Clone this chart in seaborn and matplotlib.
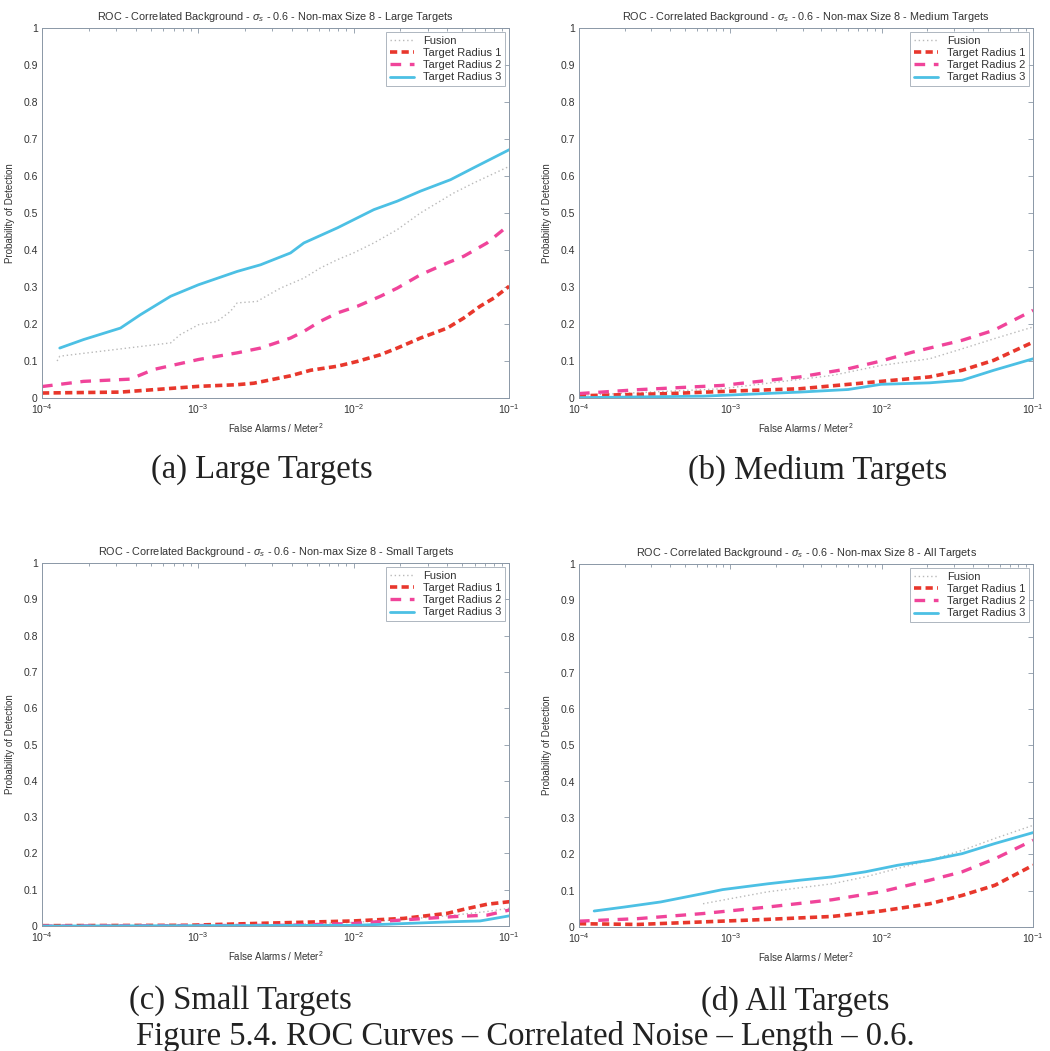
import numpy as np
import pandas as pd
import matplotlib
matplotlib.use("Agg")
import matplotlib.pyplot as plt
from matplotlib.ticker import LogLocator, FixedLocator, NullFormatter
import seaborn as sns

# ---------------- data: false alarm rate (per m^2) and probability of detection ----------------
# (a) Large targets
large_fusion_fa = [1.25e-4, 1.30e-4, 6.7e-4, 7.7e-4, 1.01e-3, 1.33e-3, 1.62e-3, 1.79e-3, 2.4e-3, 3.4e-3,
                   4.8e-3, 6.1e-3, 7.9e-3, 1.0e-2, 1.35e-2, 1.91e-2, 2.69e-2, 4.4e-2, 5.9e-2, 1.0e-1]
large_fusion_pd = [0.100, 0.113, 0.149, 0.171, 0.198, 0.207, 0.234, 0.257, 0.261, 0.297,
                   0.324, 0.351, 0.374, 0.392, 0.419, 0.455, 0.500, 0.554, 0.581, 0.626]
large_r1_fa = [1.0e-4, 3.19e-4, 5.2e-4, 1.01e-3, 1.79e-3, 2.29e-3, 3.94e-3, 5.3e-3, 7.9e-3, 1.06e-2,
               1.49e-2, 1.91e-2, 2.69e-2, 4.0e-2, 5.1e-2, 6.5e-2, 7.96e-2, 1.0e-1]
large_r1_pd = [0.0135, 0.016, 0.0225, 0.0315, 0.036, 0.040, 0.060, 0.075, 0.086, 0.099,
               0.117, 0.135, 0.162, 0.189, 0.216, 0.248, 0.270, 0.302]
large_r2_fa = [1.0e-4, 1.85e-4, 3.69e-4, 5.2e-4, 1.01e-3, 1.79e-3, 2.53e-3, 3.94e-3, 4.8e-3, 6.1e-3,
               7.9e-3, 1.06e-2, 1.49e-2, 1.91e-2, 2.69e-2, 4.0e-2, 5.1e-2, 7.2e-2, 1.0e-1]
large_r2_pd = [0.031, 0.045, 0.051, 0.077, 0.104, 0.122, 0.135, 0.162, 0.180, 0.207,
               0.230, 0.248, 0.275, 0.297, 0.333, 0.365, 0.383, 0.419, 0.468]
large_r3_fa = [1.30e-4, 1.85e-4, 3.19e-4, 4.28e-4, 6.7e-4, 1.01e-3, 1.79e-3, 2.53e-3, 3.94e-3, 4.8e-3,
               7.9e-3, 1.35e-2, 1.91e-2, 2.69e-2, 4.2e-2, 5.9e-2, 1.0e-1]
large_r3_pd = [0.135, 0.158, 0.189, 0.225, 0.275, 0.306, 0.342, 0.360, 0.392, 0.419,
               0.460, 0.509, 0.532, 0.559, 0.590, 0.622, 0.671]

# (b) Medium targets
medium_fusion_fa = [1.0e-4, 8.8e-4, 4.7e-3, 9.9e-3, 2.07e-2, 3.4e-2, 5.5e-2, 1.0e-1]
medium_fusion_pd = [0.007, 0.025, 0.061, 0.088, 0.106, 0.133, 0.160, 0.192]
medium_r1_fa = [1.0e-4, 4.0e-4, 1.07e-3, 2.88e-3, 9.9e-3, 2.07e-2, 3.4e-2, 5.5e-2, 1.0e-1]
medium_r1_pd = [0.006, 0.012, 0.019, 0.025, 0.045, 0.057, 0.075, 0.102, 0.151]
medium_r2_fa = [1.0e-4, 2.45e-4, 8.8e-4, 2.88e-3, 6.0e-3, 9.9e-3, 1.6e-2, 3.4e-2, 5.5e-2, 1.0e-1]
medium_r2_pd = [0.012, 0.0225, 0.034, 0.057, 0.079, 0.100, 0.124, 0.156, 0.183, 0.237]
medium_r3_fa = [1.0e-4, 6.6e-4, 2.88e-3, 6.0e-3, 9.9e-3, 2.07e-2, 3.4e-2, 5.5e-2, 1.0e-1]
medium_r3_pd = [0.001, 0.005, 0.016, 0.023, 0.037, 0.041, 0.048, 0.075, 0.106]

# (c) Small targets
small_fusion_fa = [1.0e-4, 8.5e-4, 3.75e-3, 1.0e-2, 2.1e-2, 4.4e-2, 7.2e-2, 1.0e-1]
small_fusion_pd = [0.0, 0.001, 0.004, 0.010, 0.018, 0.030, 0.040, 0.049]
small_r1_fa = [1.0e-4, 8.5e-4, 2.29e-3, 1.0e-2, 2.1e-2, 4.0e-2, 5.1e-2, 7.2e-2, 1.0e-1]
small_r1_pd = [0.001, 0.002, 0.007, 0.014, 0.021, 0.035, 0.046, 0.060, 0.067]
small_r2_fa = [1.0e-4, 3.75e-3, 1.0e-2, 2.1e-2, 4.4e-2, 7.2e-2, 1.0e-1]
small_r2_pd = [0.0, 0.002, 0.007, 0.017, 0.026, 0.030, 0.044]
small_r3_fa = [1.0e-4, 1.0e-2, 1.64e-2, 4.4e-2, 6.5e-2, 1.0e-1]
small_r3_pd = [0.0, 0.002, 0.005, 0.012, 0.014, 0.028]

# (d) All targets
all_fusion_fa = [6.6e-4, 1.77e-3, 4.7e-3, 7.8e-3, 1.27e-2, 2.08e-2, 3.4e-2, 5.6e-2, 1.0e-1]
all_fusion_pd = [0.064, 0.097, 0.119, 0.138, 0.161, 0.184, 0.211, 0.244, 0.280]
all_r1_fa = [1.0e-4, 2.45e-4, 6.6e-4, 1.77e-3, 4.7e-3, 9.9e-3, 2.08e-2, 3.4e-2, 5.6e-2, 1.0e-1]
all_r1_pd = [0.009, 0.007, 0.014, 0.021, 0.029, 0.044, 0.064, 0.087, 0.115, 0.170]
all_r2_fa = [1.0e-4, 2.45e-4, 6.6e-4, 1.77e-3, 4.7e-3, 9.9e-3, 2.08e-2, 3.4e-2, 5.6e-2, 1.0e-1]
all_r2_pd = [0.016, 0.023, 0.037, 0.055, 0.075, 0.097, 0.129, 0.152, 0.188, 0.239]
all_r3_fa = [1.26e-4, 2.0e-4, 3.47e-4, 6.6e-4, 8.9e-4, 1.77e-3, 2.9e-3, 4.7e-3, 7.8e-3, 1.27e-2,
             2.08e-2, 3.4e-2, 5.6e-2, 1.0e-1]
all_r3_pd = [0.044, 0.055, 0.069, 0.092, 0.103, 0.119, 0.129, 0.138, 0.152, 0.170,
             0.184, 0.202, 0.230, 0.260]

series_names = ["Fusion", "Target Radius 1", "Target Radius 2", "Target Radius 3"]
panel_names = ["Large Targets", "Medium Targets", "Small Targets", "All Targets"]
subcaptions = ["(a) Large Targets", "(b) Medium Targets", "(c) Small Targets", "(d) All Targets"]
figure_caption = "Figure 5.4. ROC Curves \u2013 Correlated Noise \u2013 Length \u2013 0.6."
x_ticks = [1e-4, 1e-3, 1e-2, 1e-1]
x_tick_labels = [r"$10^{-4}$", r"$10^{-3}$", r"$10^{-2}$", r"$10^{-1}$"]
y_ticks = [0, 0.1, 0.2, 0.3, 0.4, 0.5, 0.6, 0.7, 0.8, 0.9, 1]
y_tick_labels = ["0", "0.1", "0.2", "0.3", "0.4", "0.5", "0.6", "0.7", "0.8", "0.9", "1"]

panels = [
    [(large_fusion_fa, large_fusion_pd), (large_r1_fa, large_r1_pd), (large_r2_fa, large_r2_pd), (large_r3_fa, large_r3_pd)],
    [(medium_fusion_fa, medium_fusion_pd), (medium_r1_fa, medium_r1_pd), (medium_r2_fa, medium_r2_pd), (medium_r3_fa, medium_r3_pd)],
    [(small_fusion_fa, small_fusion_pd), (small_r1_fa, small_r1_pd), (small_r2_fa, small_r2_pd), (small_r3_fa, small_r3_pd)],
    [(all_fusion_fa, all_fusion_pd), (all_r1_fa, all_r1_pd), (all_r2_fa, all_r2_pd), (all_r3_fa, all_r3_pd)],
]

# ---------------- styling ----------------
sns.set_style("white")
plt.rcParams["font.family"] = ["Liberation Sans", "DejaVu Sans"]
plt.rcParams["mathtext.fontset"] = "custom"
plt.rcParams["mathtext.rm"] = "Liberation Sans"
plt.rcParams["mathtext.it"] = "Liberation Sans:italic"

line_styles = {
    "Fusion": dict(color="#a8a8a8", linestyle=(0, (1, 2)), linewidth=1.0, alpha=0.8),
    "Target Radius 1": dict(color="#e8372c", linestyle=(0, (2.0, 1.2)), linewidth=2.6),
    "Target Radius 2": dict(color="#f0449a", linestyle=(0, (3.2, 2.6)), linewidth=2.4),
    "Target Radius 3": dict(color="#4cc0e4", linestyle="-", linewidth=2.0),
}
spine_color = "#8a97a6"

fig = plt.figure(figsize=(10.5, 10.51), dpi=100)
positions = [
    [0.040, 0.6213, 0.445, 0.3521],
    [0.5514, 0.6213, 0.4325, 0.3521],
    [0.040, 0.1189, 0.445, 0.3454],
    [0.5514, 0.1180, 0.4325, 0.3454],
]

for idx, (pos, curves, pname) in enumerate(zip(positions, panels, panel_names)):
    ax = fig.add_axes(pos)
    for name, (fa, pd_vals) in zip(series_names, curves):
        df = pd.DataFrame({"fa": fa, "pd": pd_vals})
        sty = line_styles[name]
        sns.lineplot(data=df, x="fa", y="pd", ax=ax, estimator=None, sort=False,
                     label=name, color=sty["color"], linewidth=sty["linewidth"],
                     alpha=sty.get("alpha", 1.0))
        ax.lines[-1].set_linestyle(sty["linestyle"])
        ax.lines[-1].set_dash_capstyle("butt")
    ax.set_xscale("log")
    ax.set_xlim(1e-4, 1e-1)
    ax.set_ylim(0, 1)
    ax.xaxis.set_major_locator(FixedLocator(x_ticks))
    ax.set_xticklabels(x_tick_labels)
    ax.xaxis.set_minor_locator(LogLocator(base=10, subs=np.arange(2, 10)))
    ax.xaxis.set_minor_formatter(NullFormatter())
    ax.set_yticks(y_ticks)
    ax.set_yticklabels(y_tick_labels)
    ax.tick_params(axis="both", which="both", direction="in", top=True, right=True,
                   color=spine_color, labelsize=7.5, labelcolor="#333333", width=0.6)
    ax.tick_params(axis="both", which="major", length=3.5, pad=3)
    ax.tick_params(axis="x", which="minor", length=2)
    for sp in ax.spines.values():
        sp.set_color(spine_color)
        sp.set_linewidth(0.7)
    ax.set_xlabel("False Alarms / Meter$^2$", fontsize=7, color="#333333", labelpad=4)
    ax.set_ylabel("Probability of Detection", fontsize=7, color="#333333", labelpad=6)
    ax.set_title("ROC - Correlated Background - $\\sigma_s$ - 0.6 - Non-max Size 8 - " + pname,
                 fontsize=7.8, color="#333333", pad=6)
    leg = ax.legend(loc="upper right", fontsize=8, frameon=True, fancybox=False,
                    borderpad=0.35, labelspacing=0.2, handlelength=2.2, handletextpad=0.8,
                    borderaxespad=0.35)
    leg.get_frame().set_edgecolor("#9aa4b0")
    leg.get_frame().set_linewidth(0.7)
    for t in leg.get_texts():
        t.set_color("#333333")

# sub-captions and figure caption
serif = ["Liberation Serif", "DejaVu Serif"]
cap_size = 23.5
fig.text(262 / 1050, 1 - 470 / 1051, subcaptions[0], ha="center", va="center", fontsize=cap_size, family=serif, color="#222222")
fig.text(818 / 1050, 1 - 470 / 1051, subcaptions[1], ha="center", va="center", fontsize=cap_size, family=serif, color="#222222")
fig.text(240 / 1050, 1 - 1001 / 1051, subcaptions[2], ha="center", va="center", fontsize=cap_size, family=serif, color="#222222")
fig.text(795 / 1050, 1 - 1001 / 1051, subcaptions[3], ha="center", va="center", fontsize=cap_size, family=serif, color="#222222")
fig.text(525 / 1050, 1 - 1036 / 1051, figure_caption, ha="center", va="center", fontsize=cap_size, family=serif, color="#222222")

fig.savefig("out.png", dpi=100)
